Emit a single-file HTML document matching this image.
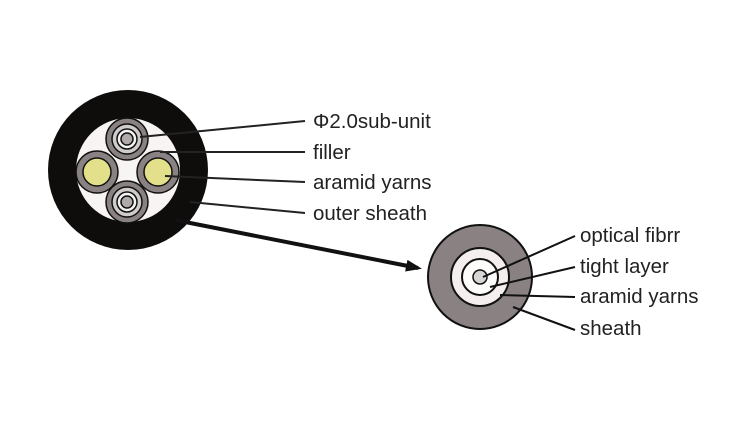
<!DOCTYPE html><html><head><style>body{margin:0;background:#fff}svg{display:block}text{font-family:"Liberation Sans",sans-serif;font-size:20.5px;fill:#222}</style></head><body>
<svg width="750" height="427" viewBox="0 0 750 427">
<defs><marker id="a" markerWidth="16" markerHeight="12" refX="12" refY="6" orient="auto" markerUnits="userSpaceOnUse" viewBox="0 0 16 12"><path d="M0,0L16,6L0,12z" fill="#111"/></marker></defs>
<circle cx="128" cy="170" r="80" fill="#0f0d0c"/>
<circle cx="128" cy="170" r="52" fill="#f7f4f3"/>
<g stroke="#111" stroke-width="1.5">
<g><circle cx="127" cy="139" r="21" fill="#8a8282"/><circle cx="127" cy="139" r="15" fill="#d0cccc"/><circle cx="127" cy="139" r="10" fill="#f4f2f2"/><circle cx="127" cy="139" r="6" fill="#b0aaaa"/></g>
<g><circle cx="127" cy="202" r="21" fill="#8a8282"/><circle cx="127" cy="202" r="15" fill="#d0cccc"/><circle cx="127" cy="202" r="10" fill="#f4f2f2"/><circle cx="127" cy="202" r="6" fill="#b0aaaa"/></g>
<circle cx="97" cy="172" r="21" fill="#8a8282"/><circle cx="97" cy="172" r="14" fill="#e2e08a"/>
<circle cx="158" cy="172" r="21" fill="#8a8282"/><circle cx="158" cy="172" r="14" fill="#e2e08a"/>
</g>
<g stroke="#222" stroke-width="2">
<line x1="140" y1="137" x2="305" y2="121"/><line x1="160" y1="152" x2="305" y2="152"/>
<line x1="165" y1="176" x2="305" y2="182"/><line x1="190" y1="202" x2="305" y2="213"/>
</g>
<line x1="175" y1="220" x2="418" y2="268" stroke="#111" stroke-width="4" marker-end="url(#a)"/>
<text x="313" y="128">Φ2.0sub-unit</text><text x="313" y="159">filler</text><text x="313" y="189">aramid yarns</text><text x="313" y="220">outer sheath</text>
<g stroke="#111" stroke-width="2">
<circle cx="480" cy="277" r="52" fill="#8a8282"/>
<circle cx="480" cy="277" r="29" fill="#f4eeee"/>
<circle cx="480" cy="277" r="18" fill="#fdfcfa"/>
<circle cx="480" cy="277" r="7" fill="#d6d6d6" stroke-width="1.5"/>
<line x1="483" y1="277" x2="575" y2="236"/><line x1="490" y1="287" x2="575" y2="267"/>
<line x1="500" y1="295" x2="575" y2="297"/><line x1="513" y1="307" x2="575" y2="330"/>
</g>
<text x="580" y="242">optical fibrr</text><text x="580" y="273">tight layer</text><text x="580" y="303">aramid yarns</text><text x="580" y="335">sheath</text>
</svg></body></html>
